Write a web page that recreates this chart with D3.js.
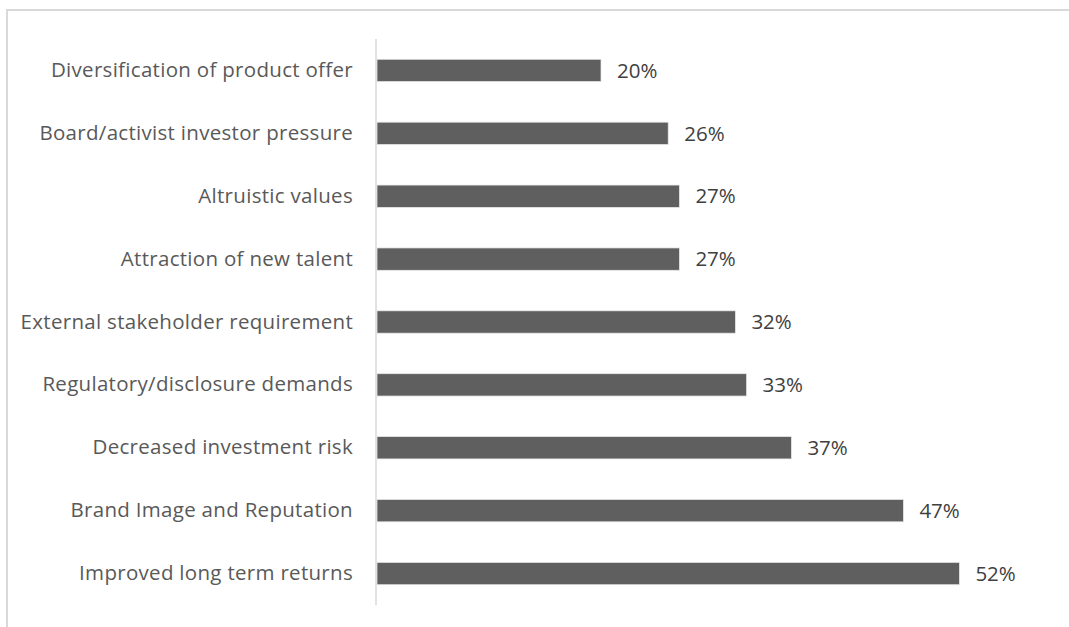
<!DOCTYPE html>
<html>
<head>
<meta charset="utf-8">
<script src="https://cdn.jsdelivr.net/npm/d3@7"></script>
<style>
  html, body { margin: 0; padding: 0; background: #fff; }
  svg { display: block; }
</style>
</head>
<body>
<svg id="chart" width="1069" height="627"></svg>
<script>
// Motivations, top to bottom, with share of respondents (%)
const categories = [
  "Diversification of product offer",
  "Board/activist investor pressure",
  "Altruistic values",
  "Attraction of new talent",
  "External stakeholder requirement",
  "Regulatory/disclosure demands",
  "Decreased investment risk",
  "Brand Image and Reputation",
  "Improved long term returns"
];
const values = [20, 26, 27, 27, 32, 33, 37, 47, 52];

const W = 1069, H = 627;
const svg = d3.select("#chart");

// chart frame
svg.append("rect")
  .attr("x", 7).attr("y", 10)
  .attr("width", W + 20).attr("height", H + 20)
  .attr("fill", "none")
  .attr("stroke", "#d9d9d9")
  .attr("stroke-width", 2);

const x = d3.scaleLinear().domain([0, 60]).range([377, 1049]);
const y = d3.scaleBand().domain(categories).range([39, 605]).paddingInner(0.645).paddingOuter(0.3225);

const font = "'Open Sans', Lato, sans-serif";

// bars
svg.append("g").selectAll("rect")
  .data(categories)
  .join("rect")
  .attr("x", x(0))
  .attr("y", d => y(d))
  .attr("width", (d, i) => x(values[i]) - x(0))
  .attr("height", y.bandwidth())
  .attr("fill", "#5f5f5f")
  .attr("stroke", "#e8e8e8")
  .attr("stroke-width", 0.75);

// vertical category axis
const axis = svg.append("g")
  .attr("transform", `translate(${x(0) - 1},0)`)
  .call(d3.axisLeft(y).tickSize(0).tickPadding(23));
axis.select(".domain")
  .attr("d", `M0,39V605`)
  .attr("stroke", "#d9d9d9")
  .attr("stroke-width", 1.5);
axis.selectAll("text")
  .attr("fill", "#595959")
  .style("font-family", font)
  .style("font-size", "20.5px")
  .style("letter-spacing", "0.3px");

// value labels
svg.append("g").selectAll("text")
  .data(categories)
  .join("text")
  .attr("x", (d, i) => x(values[i]) + 16)
  .attr("y", d => y(d) + y.bandwidth() / 2)
  .attr("dy", "0.35em")
  .attr("fill", "#404040")
  .style("font-family", font)
  .style("font-size", "20.5px")
  .text((d, i) => values[i] + "%");
</script>
</body>
</html>
